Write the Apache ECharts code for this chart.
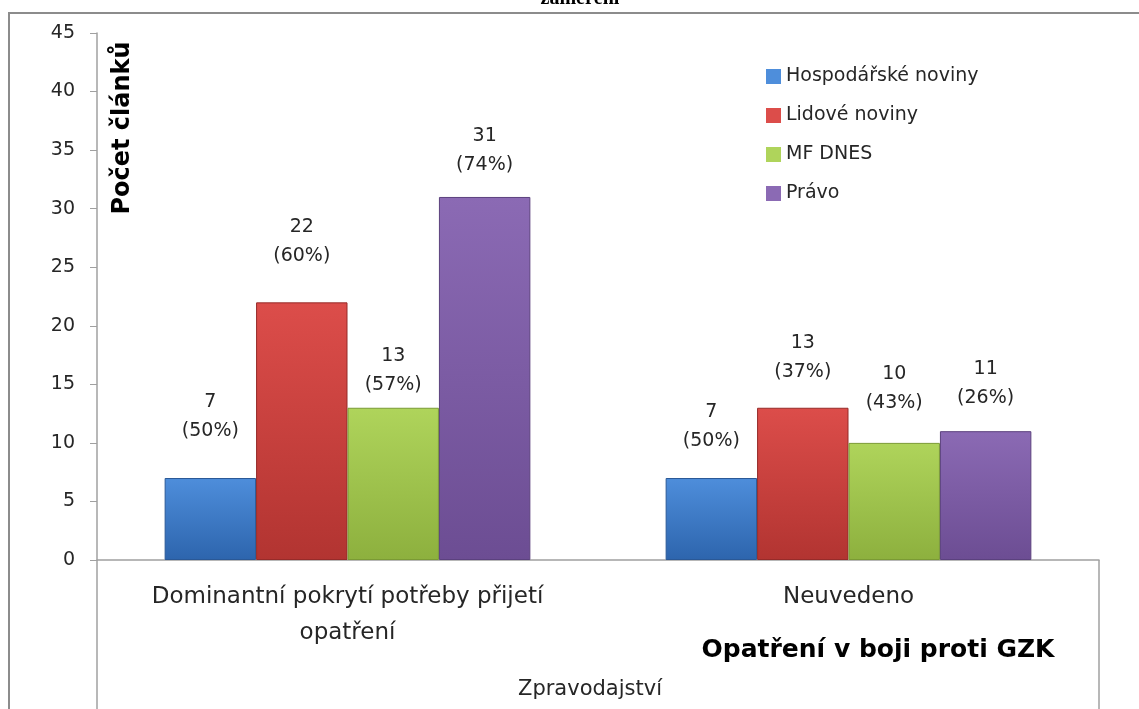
<!DOCTYPE html>
<html>
<head>
<meta charset="utf-8">
<script src="https://cdn.jsdelivr.net/npm/echarts@6/dist/echarts.min.js"></script>
<style>
  html, body { margin: 0; padding: 0; background: #fff; }
  #chart { width: 1139px; height: 709px; }
</style>
</head>
<body>
<div id="chart"></div>
<script>
// data
const categories = ['Dominantní pokrytí potřeby přijetí\nopatření', 'Neuvedeno'];
const seriesNames = ['Hospodářské noviny', 'Lidové noviny', 'MF DNES', 'Právo'];
const hnValues = [7, 7];
const hnPercent = [50, 50];
const lnValues = [22, 13];
const lnPercent = [60, 37];
const mfValues = [13, 10];
const mfPercent = [57, 43];
const prValues = [31, 11];
const prPercent = [74, 26];
const yTicks = [0, 45, 5]; // min, max, step

// styling
const fontFamily = '"DejaVu Sans", sans-serif';
const colorList = [
  { top: '#4e8edb', bottom: '#2d65ad', border: '#2a5896' },
  { top: '#dc4d4a', bottom: '#b23431', border: '#962b29' },
  { top: '#afd45b', bottom: '#8db03e', border: '#7a9a34' },
  { top: '#8b6ab4', bottom: '#6c4d93', border: '#5b417e' }
];
// manual label lift over each bar (labels were nudged by hand in the original)
const labelDistance = [[32, 22], [32, 21], [8, 25], [17, 19]];

const valueList = [hnValues, lnValues, mfValues, prValues];
const percentList = [hnPercent, lnPercent, mfPercent, prPercent];

const chart = echarts.init(document.getElementById('chart'));

const series = seriesNames.map((name, i) => ({
  name: name,
  type: 'bar',
  barGap: '0%',
  barCategoryGap: '27%',
  itemStyle: {
    color: new echarts.graphic.LinearGradient(0, 0, 0, 1, [
      { offset: 0, color: colorList[i].top },
      { offset: 1, color: colorList[i].bottom }
    ]),
    borderColor: colorList[i].border,
    borderWidth: 1
  },
  data: valueList[i].map((v, j) => ({
    value: v,
    label: { distance: labelDistance[i][j] }
  })),
  label: {
    show: true,
    position: 'top',
    fontFamily: fontFamily,
    fontSize: 19,
    lineHeight: 29,
    color: '#262626',
    formatter: p => p.value + '\n(' + percentList[i][p.dataIndex] + '%)'
  }
}));

const option = {
  animation: false,
  grid: { left: 97, right: 40, top: 33, bottom: 149, containLabel: false },
  legend: {
    orient: 'vertical',
    left: 761,
    top: 62,
    icon: 'rect',
    itemWidth: 15,
    itemHeight: 15,
    itemGap: 20,
    textStyle: { fontFamily: fontFamily, fontSize: 19, color: '#262626' },
    data: seriesNames.map((n, i) => ({
      name: n,
      itemStyle: { color: colorList[i].top, borderWidth: 0 }
    }))
  },
  xAxis: {
    type: 'category',
    data: categories,
    axisLine: { lineStyle: { color: '#a0a0a0', width: 1.5 } },
    axisTick: { show: false },
    axisLabel: {
      interval: 0,
      fontFamily: fontFamily,
      fontSize: 23,
      lineHeight: 36,
      color: '#262626',
      margin: 19
    }
  },
  yAxis: {
    type: 'value',
    min: yTicks[0],
    max: yTicks[1],
    interval: yTicks[2],
    axisLine: { show: true, lineStyle: { color: '#a0a0a0', width: 1.5 } },
    axisTick: { show: true, length: 7, lineStyle: { color: '#a0a0a0' } },
    splitLine: { show: false },
    axisLabel: { fontFamily: fontFamily, fontSize: 19, color: '#262626', margin: 22 }
  },
  graphic: [
    // outer chart frame (partly cut off in the picture)
    { type: 'line', shape: { x1: 9, y1: 13, x2: 9, y2: 709 }, style: { stroke: '#8c8c8c', lineWidth: 2 } },
    { type: 'line', shape: { x1: 8, y1: 13, x2: 1139, y2: 13 }, style: { stroke: '#8c8c8c', lineWidth: 2 } },
    // field box under the axis
    { type: 'line', shape: { x1: 97, y1: 560, x2: 97, y2: 709 }, style: { stroke: '#a0a0a0', lineWidth: 1.5 } },
    { type: 'line', shape: { x1: 1099, y1: 560, x2: 1099, y2: 709 }, style: { stroke: '#a0a0a0', lineWidth: 1.5 } },
    {
      type: 'text', x: 580, y: 9,
      style: { text: 'zaměření', fontFamily: '"Liberation Serif", serif', fontWeight: 'bold', fontSize: 20, fill: '#000', align: 'center', verticalAlign: 'bottom' }
    },
    {
      type: 'text', x: 123, y: 128, rotation: Math.PI / 2,
      style: { text: 'Počet článků', fontFamily: fontFamily, fontWeight: 'bold', fontSize: 24, fill: '#000', align: 'center', verticalAlign: 'middle' }
    },
    {
      type: 'text', x: 878, y: 650,
      style: { text: 'Opatření v boji proti GZK', fontFamily: fontFamily, fontWeight: 'bold', fontSize: 25, fill: '#000', align: 'center', verticalAlign: 'middle' }
    },
    {
      type: 'text', x: 590, y: 690,
      style: { text: 'Zpravodajství', fontFamily: fontFamily, fontSize: 21, fill: '#262626', align: 'center', verticalAlign: 'middle' }
    }
  ],
  series: series
};

chart.setOption(option);
</script>
</body>
</html>
